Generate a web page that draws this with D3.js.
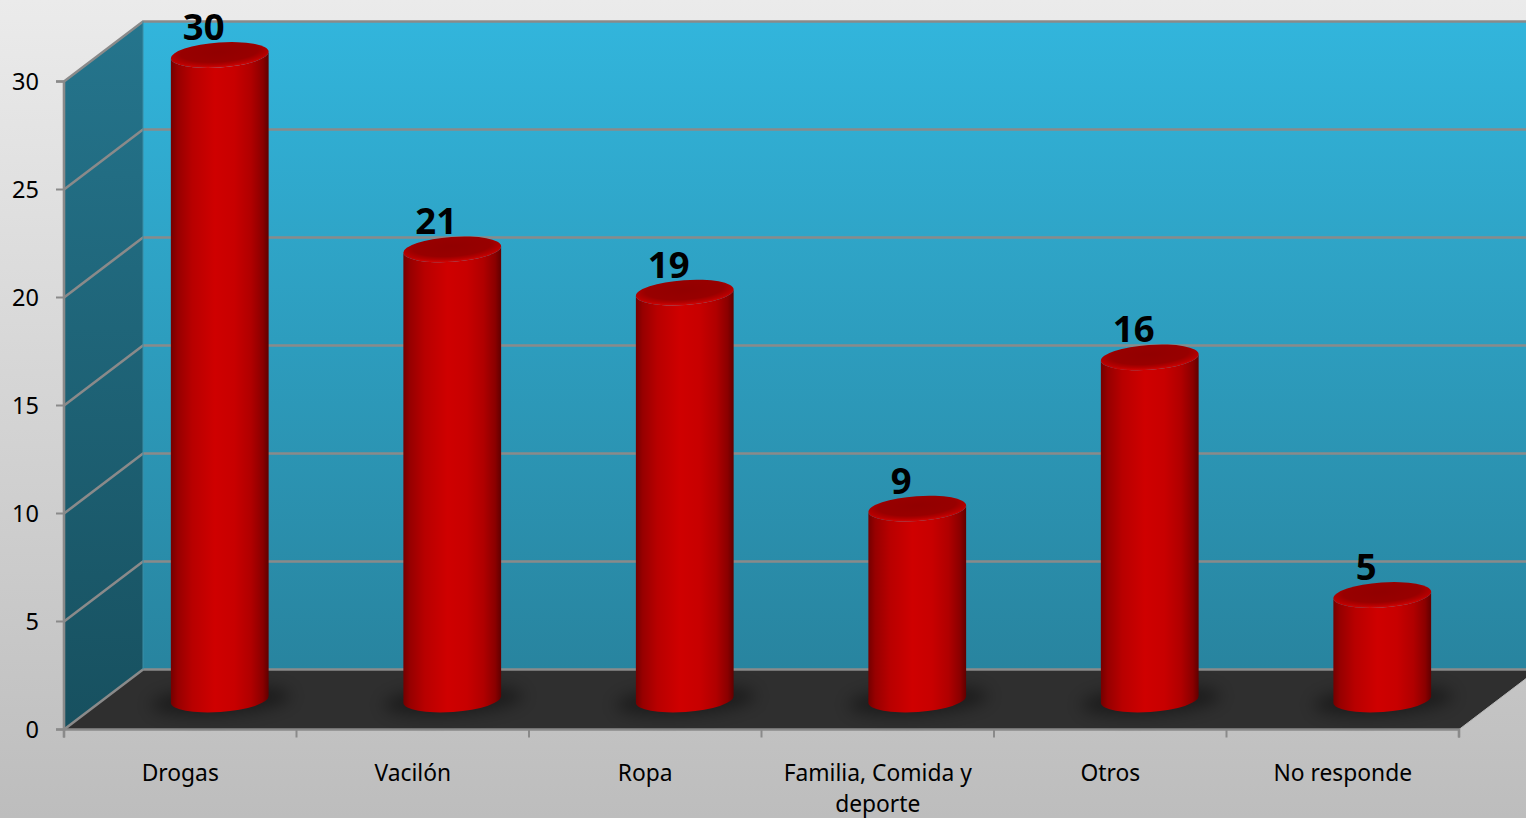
<!DOCTYPE html>
<html><head><meta charset="utf-8">
<script src="https://cdnjs.cloudflare.com/ajax/libs/d3/7.8.5/d3.min.js"></script>
<style>html,body{margin:0;padding:0;overflow:hidden;background:#ccc}svg{display:block}text{font-family:"Noto Sans","Open Sans",sans-serif;fill:#000}</style>
</head><body><svg id="c" width="1526" height="818"></svg>
<script>
const categories=["Drogas","Vacilón","Ropa","Familia, Comida y deporte","Otros","No responde"];
const values=[30,21,19,9,16,5];
const yTicks=[0,5,10,15,20,25,30];

const W=1526,H=818,dx=79,dy=-60,rx=49,ry=12.5,tilt=-4,capDrop=3.5;
const svg=d3.select("#c");
const x=d3.scaleBand().domain(categories).range([64,1459]);
const y=d3.scaleLinear().domain([0,30]).range([729.5,81.5]);
const edges=d3.scaleLinear().domain([0,categories.length]).range([64,1459]);
const defs=svg.append("defs");
function grad(id,stops,v){const g=defs.append("linearGradient").attr("id",id).attr("x1",0).attr("y1",0).attr("x2",v?0:1).attr("y2",v?1:0);
 stops.forEach(s=>g.append("stop").attr("offset",s[0]).attr("stop-color",s[1]));}
grad("bg",[[0,"#ebebeb"],[1,"#bdbdbd"]],true);
grad("back",[[0,"#32b5dc"],[1,"#28849f"]],true);
grad("side",[[0,"#25758d"],[1,"#17505f"]],true);
grad("cyl",[[0,"#740000"],[.07,"#970000"],[.22,"#b80000"],[.45,"#cf0000"],[.65,"#c80000"],[.82,"#b00000"],[.94,"#8a0000"],[1,"#600000"]],false);
const rg=defs.append("radialGradient").attr("id","cap").attr("cx",.5).attr("cy",.38).attr("r",.64);
[[0,"#920000"],[.62,"#980000"],[.8,"#b40000"],[.93,"#cc0404"],[.97,"#ee1a1a"],[1,"#cc0000"]].forEach(s=>rg.append("stop").attr("offset",s[0]).attr("stop-color",s[1]));
defs.append("filter").attr("id","blur").attr("x","-30%").attr("y","-80%").attr("width","160%").attr("height","260%").append("feGaussianBlur").attr("stdDeviation",8);

svg.append("rect").attr("width",W).attr("height",H).attr("fill","url(#bg)");
const y0=y(0),yT=y(30),xL=x.range()[0],xR=x.range()[1];
const pts=a=>a.map(p=>p.join(",")).join(" ");
// walls and floor
svg.append("polygon").attr("points",pts([[xL+dx,y0+dy],[xR+dx,y0+dy],[xR+dx,yT+dy],[xL+dx,yT+dy]])).attr("fill","url(#back)");
svg.append("polygon").attr("points",pts([[xL,y0],[xL+dx,y0+dy],[xL+dx,yT+dy],[xL,yT]])).attr("fill","url(#side)");
svg.append("polygon").attr("points",pts([[xL,y0],[xR,y0],[xR+dx,y0+dy],[xL+dx,y0+dy]])).attr("fill","#2f2f2f");
// gridlines
const gs="#8a8a8a";
yTicks.forEach(t=>{
 svg.append("polyline").attr("points",pts([[xL,y(t)],[xL+dx,y(t)+dy],[xR+dx,y(t)+dy]])).attr("fill","none").attr("stroke",gs).attr("stroke-width",2.6);
});
svg.append("line").attr("x1",xL+dx).attr("x2",xL+dx).attr("y1",yT+dy).attr("y2",y0+dy).attr("stroke","#3a8ea6").attr("stroke-width",1);
svg.append("line").attr("x1",xR).attr("y1",y0).attr("x2",xR+dx).attr("y2",y0+dy).attr("stroke","#b8b8b8").attr("stroke-width",1);
// axes
const ay=svg.append("g").attr("transform",`translate(${xL},0)`).call(d3.axisLeft(y).offset(0).tickValues(yTicks).tickSize(8).tickPadding(17));
const ax=svg.append("g").attr("transform",`translate(0,${y0})`).call(d3.axisBottom(edges).offset(0).ticks(categories.length).tickSize(8).tickFormat(""));
[ay,ax].forEach(a=>{a.selectAll("path.domain").attr("stroke",gs).attr("stroke-width",2.6);a.selectAll("line").attr("stroke",gs).attr("stroke-width",2);});
ay.selectAll("text").attr("font-size",23.5).attr("dy","0.38em").style("font-family",'"Noto Sans"').attr("fill","#000");
// bars
const cx=d=>x(d)+x.bandwidth()/2+dx/2;
const cy=v=>y(v)+dy/2;
const t=tilt*Math.PI/180,ex=rx*Math.cos(t),ey=rx*Math.sin(t);
const bars=svg.selectAll("g.bar").data(categories.map((c,i)=>({c,v:values[i]}))).join("g").attr("class","bar");
bars.append("ellipse").attr("rx",70).attr("ry",14).attr("fill","#000").attr("opacity",.4).attr("filter","url(#blur)")
 .attr("transform",d=>`translate(${cx(d.c)+1},${cy(0)+1}) rotate(${tilt})`);
bars.append("path").attr("fill","url(#cyl)").attr("d",d=>{
 const X=cx(d.c),T=cy(d.v)+capDrop,B=cy(0);
 return `M${X-ex},${T-ey}L${X-ex},${B-ey}A${rx},${ry} ${tilt} 0 0 ${X+ex},${B+ey}L${X+ex},${T+ey}A${rx},${ry} ${tilt} 0 1 ${X-ex},${T-ey}Z`;
});
bars.append("ellipse").attr("rx",rx).attr("ry",ry).attr("fill","url(#cap)")
 .attr("transform",d=>`translate(${cx(d.c)},${cy(d.v)+capDrop}) rotate(${tilt})`);
bars.append("text").attr("x",d=>cx(d.c)-16).attr("y",d=>cy(d.v)+capDrop-15).attr("text-anchor","middle")
 .attr("font-size",36.5).attr("font-weight",700).text(d=>d.v);
// category labels
categories.forEach(c=>{
 const tx=svg.append("text").attr("x",x(c)+x.bandwidth()/2).attr("y",781).attr("text-anchor","middle").attr("font-size",22.8);
 let line=[],ts=tx.append("tspan").attr("x",x(c)+x.bandwidth()/2);
 c.split(" ").forEach(w=>{
  line.push(w);ts.text(line.join(" "));
  if(ts.node().getComputedTextLength()>x.bandwidth()-10&&line.length>1){
   line.pop();ts.text(line.join(" "));line=[w];
   ts=tx.append("tspan").attr("x",x(c)+x.bandwidth()/2).attr("dy",30.5).text(w);
  }
 });
});
</script></body></html>
